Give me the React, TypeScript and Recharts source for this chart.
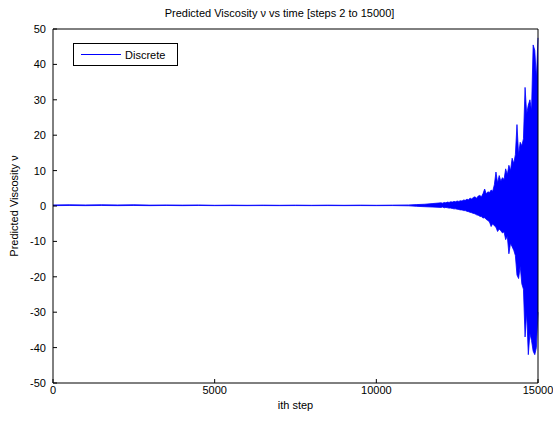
import React from 'react'
import { ComposedChart, Area, XAxis, YAxis } from 'recharts'

// sample steps (denser where the oscillation blows up)
const STEPS = [
  0, 500, 1000, 1500, 2000, 2500, 3000, 3500, 4000, 4500, 5000, 5500, 6000, 6500, 7000, 7500,
  8000, 8500, 9000, 9500, 10000, 10500, 11000, 11250, 11500, 11750,
  12000, 12050, 12100, 12150, 12200, 12250, 12300, 12350, 12400, 12450,
  12500, 12550, 12600, 12650, 12700, 12750, 12800, 12850, 12900, 12950,
  13000, 13050, 13100, 13150, 13200, 13250, 13300, 13350, 13400, 13450,
  13500, 13550, 13600, 13650, 13700, 13750, 13800, 13850, 13900, 13950,
  14000, 14050, 14100, 14150, 14200, 14250, 14300, 14350, 14400, 14450,
  14500, 14550, 14600, 14650, 14700, 14750, 14800, 14850, 14900, 14950, 15000,
]

// upper envelope of predicted viscosity
const UPPER = [
  0.3, 0.35, 0.3, 0.35, 0.3, 0.35, 0.25, 0.3, 0.25, 0.3, 0.2, 0.25, 0.2, 0.25, 0.2, 0.25,
  0.2, 0.25, 0.2, 0.25, 0.2, 0.25, 0.3, 0.4, 0.5, 0.7,
  0.9, 0.8, 1.0, 0.9, 1.1, 1.0, 1.2, 1.1, 1.3, 1.2,
  1.4, 1.3, 1.5, 1.4, 1.7, 1.6, 1.9, 1.8, 2.2, 2.0,
  2.4, 2.6, 2.2, 2.8, 3.0, 2.6, 3.5, 4.8, 3.4, 4.0,
  3.8, 4.5, 4.2, 6.0, 9.6, 6.5, 8.6, 7.0, 8.0, 7.5,
  10.5, 8.8, 11.5, 10.0, 13.5, 12.0, 14.5, 23.0, 14.5, 18.0,
  17.0, 19.0, 33.5, 26.0, 28.5, 30.0, 27.0, 45.5, 44.0, 36.0, 47.5,
]

// lower envelope of predicted viscosity
const LOWER = [
  0.1, 0.15, 0.1, 0.15, 0.1, 0.15, 0.1, 0.15, 0.1, 0.15, 0.1, 0.12, 0.1, 0.12, 0.1, 0.12,
  0.1, 0.12, 0.1, 0.12, 0.1, 0.12, 0.05, -0.1, -0.2, -0.3,
  -0.4, -0.3, -0.5, -0.4, -0.5, -0.6, -0.6, -0.7, -0.8, -0.8,
  -0.9, -1.0, -1.1, -1.1, -1.3, -1.3, -1.5, -1.6, -1.8, -1.9,
  -2.1, -2.2, -2.5, -2.6, -2.9, -3.0, -3.4, -3.3, -3.8, -4.1,
  -4.5, -5.8, -5.0, -5.6, -6.0, -7.2, -6.5, -7.0, -7.6, -7.3,
  -9.5, -8.5, -13.5, -10.5, -11.5, -12.5, -14.0, -19.5, -20.5, -17.0,
  -22.0, -23.5, -37.0, -30.0, -42.0, -36.0, -38.0, -41.0, -42.0, -40.0, -30.0,
]

const X_TICKS = [0, 5000, 10000, 15000]
const Y_TICKS = [-50, -40, -30, -20, -10, 0, 10, 20, 30, 40, 50]

const FONT = '"Liberation Sans", Arial, sans-serif'
const BLUE = '#0000ff'

const data = STEPS.map((step, i) => ({ step, band: [LOWER[i], UPPER[i]] }))

const tickStyle = { fontSize: 11, fill: '#000', fontFamily: FONT }

export default function App() {
  return (
    <div style={{ position: 'relative', width: 553, height: 421, background: '#fff', fontFamily: FONT }}>
      <style>{'body{margin:0}'}</style>
      <div
        style={{
          position: 'absolute', top: 7, left: 0, width: 553, textAlign: 'center',
          fontSize: 11, color: '#000', paddingLeft: 6, boxSizing: 'border-box',
        }}
      >
        Predicted Viscosity ν vs time [steps 2 to 15000]
      </div>
      <ComposedChart width={553} height={421} data={data} margin={{ top: 24, right: 10, bottom: 8, left: 0 }}>
        <XAxis
          dataKey="step" type="number" domain={[0, 15000]} ticks={X_TICKS} height={30}
          stroke="#000" tickSize={-4} tickMargin={7} tick={tickStyle}
          label={{ value: 'ith step', position: 'insideBottom', offset: 4, style: tickStyle }}
        />
        <XAxis
          xAxisId="top" orientation="top" type="number" domain={[0, 15000]} ticks={X_TICKS}
          height={5} stroke="#000" tickSize={-4} tick={false}
        />
        <YAxis
          type="number" domain={[-50, 50]} ticks={Y_TICKS} width={53} stroke="#000"
          tickSize={-4} tickMargin={11} tick={tickStyle}
          label={{ value: 'Predicted Viscosity ν', angle: -90, position: 'insideLeft', offset: 14, style: { ...tickStyle, textAnchor: 'middle' } }}
        />
        <YAxis
          yAxisId="right" orientation="right" type="number" domain={[-50, 50]} ticks={Y_TICKS}
          width={5} stroke="#000" tickSize={-4} tick={false}
        />
        <Area
          dataKey="band" type="linear" stroke={BLUE} strokeWidth={0.8} fill={BLUE} fillOpacity={1}
          isAnimationActive={false}
        />
      </ComposedChart>
      <div
        style={{
          position: 'absolute', left: 73, top: 43, width: 105, height: 23, boxSizing: 'border-box',
          border: '1px solid #000', background: '#fff', display: 'flex', alignItems: 'center',
          fontSize: 11, color: '#000',
        }}
      >
        <div style={{ width: 40, height: 1, background: BLUE, marginLeft: 7, marginRight: 4 }} />
        <span>Discrete</span>
      </div>
    </div>
  )
}
